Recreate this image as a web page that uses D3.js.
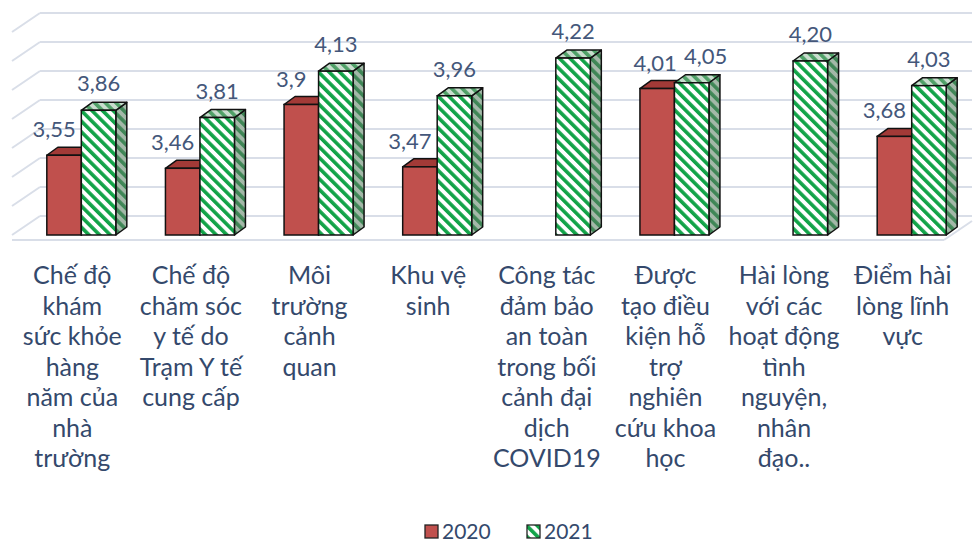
<!DOCTYPE html>
<html lang="vi">
<head>
    <meta charset="UTF-8">
    <title>3D column chart 2020 / 2021</title>
    <script src="https://d3js.org/d3.v7.min.js"></script>
    <style>
        body { margin: 0; background: #fff; }
        text { font-family: Lato, "Open Sans", sans-serif; }
    </style>
</head>
<body>
    <script>
        // Data
        const categories = [
            ["Chế độ", "khám", "sức khỏe", "hàng", "năm của", "nhà", "trường"],
            ["Chế độ", "chăm sóc", "y tế do", "Trạm Y tế", "cung cấp"],
            ["Môi", "trường", "cảnh", "quan"],
            ["Khu vệ", "sinh"],
            ["Công tác", "đảm bảo", "an toàn", "trong bối", "cảnh đại", "dịch", "COVID19"],
            ["Được", "tạo điều", "kiện hỗ", "trợ", "nghiên", "cứu khoa", "học"],
            ["Hài lòng", "với các", "hoạt động", "tình", "nguyện,", "nhân", "đạo.."],
            ["Điểm hài", "lòng lĩnh", "vực"]
        ];
        const values2020 = [3.55, 3.46, 3.9, 3.47, null, 4.01, null, 3.68];
        const values2021 = [3.86, 3.81, 4.13, 3.96, 4.22, 4.05, 4.20, 4.03];
        const labels2020 = ["3,55", "3,46", "3,9", "3,47", null, "4,01", null, "3,68"];
        const labels2021 = ["3,86", "3,81", "4,13", "3,96", "4,22", "4,05", "4,20", "4,03"];
        const gridTicks = [3.0, 3.2, 3.4, 3.6, 3.8, 4.0, 4.2, 4.4];
        const seriesNames = ["2020", "2021"];

        const W = 977, H = 542;
        const textColor = "#34496c";
        const valueColor = "#44577a";

        const svg = d3.select("body").append("svg")
            .attr("width", W).attr("height", H);

        // patterns for the hatched 2021 bars
        const defs = svg.append("defs");
        function stripes(id, bg, fg) {
            const p = defs.append("pattern")
                .attr("id", id)
                .attr("patternUnits", "userSpaceOnUse")
                .attr("width", 7.5).attr("height", 7.5)
                .attr("patternTransform", "rotate(-45)");
            p.append("rect").attr("width", 7.5).attr("height", 7.5).attr("fill", bg);
            p.append("rect").attr("width", 3.6).attr("height", 7.5).attr("fill", fg);
        }
        stripes("hatchFront", "#ffffff", "#12a348");
        stripes("hatchSide", "#a3b8a8", "#3f8656");
        stripes("hatchTop", "#c9ddce", "#4fa067");

        // the second category label is cut at the bottom in the original
        defs.append("clipPath").attr("id", "cutLabel")
            .append("rect").attr("x", 0).attr("y", 0).attr("width", W).attr("height", 411);

        // Scales
        const idx = categories.map((d, i) => i);
        const x0 = d3.scaleBand().domain(idx).range([22, 971]).padding(0);
        const groupW = 69;
        const x1 = d3.scaleBand().domain(seriesNames).range([0, groupW]);
        const y = d3.scaleLinear().domain([3, 4.4]).range([235, 235 - 1.4 * 145]);

        const wallDx = 28, wallDy = 19;   // depth of the floor / walls
        const barDx = 11, barDy = 8;      // depth of each bar

        // Back wall and left wall gridlines
        const grid = svg.append("g")
            .attr("stroke", "#d9dee8")
            .attr("stroke-width", 2)
            .attr("fill", "none");
        gridTicks.forEach(t => {
            const yb = y(t) - wallDy;
            grid.append("line")
                .attr("x1", 12 + wallDx).attr("x2", 972)
                .attr("y1", yb).attr("y2", yb);
            grid.append("line")
                .attr("x1", 12 + wallDx).attr("y1", yb)
                .attr("x2", 12).attr("y2", yb + wallDy);
        });
        // front edge of the floor
        grid.append("line")
            .attr("x1", 12).attr("x2", 944)
            .attr("y1", y(3) + 5).attr("y2", y(3) + 5);
        grid.append("line")
            .attr("x1", 944).attr("y1", y(3) + 5)
            .attr("x2", 972).attr("y2", y(3) + 5 - wallDy);

        const xStart = i => x0(i) + x0.bandwidth() / 2 - groupW / 2;

        function drawBar(g, xl, w, v, front, side, top) {
            const yt = y(v), yb = y(3);
            g.append("path")
                .attr("d", `M${xl + w},${yb} L${xl + w + barDx},${yb - barDy} L${xl + w + barDx},${yt - barDy} L${xl + w},${yt} Z`)
                .attr("fill", side).attr("stroke", "#111").attr("stroke-width", 1.5)
                .attr("stroke-linejoin", "round");
            g.append("path")
                .attr("d", `M${xl},${yt} L${xl + barDx},${yt - barDy} L${xl + w + barDx},${yt - barDy} L${xl + w},${yt} Z`)
                .attr("fill", top).attr("stroke", "#111").attr("stroke-width", 1.5)
                .attr("stroke-linejoin", "round");
            g.append("rect")
                .attr("x", xl).attr("y", yt)
                .attr("width", w).attr("height", yb - yt)
                .attr("fill", front).attr("stroke", "#111").attr("stroke-width", 1.5);
        }

        const bars = svg.append("g");
        idx.forEach(i => {
            const g = bars.append("g");
            const bw = x1.bandwidth();
            if (values2020[i] != null) {
                drawBar(g, xStart(i) + x1("2020"), bw, values2020[i], "#c0504d", "#8f3432", "#a23a37");
            }
            drawBar(g, xStart(i) + x1("2021"), bw, values2021[i], "url(#hatchFront)", "url(#hatchSide)", "url(#hatchTop)");
        });

        // Value labels (nudged apart where the two bars are nearly equal)
        const vl = svg.append("g")
            .attr("fill", valueColor)
            .attr("font-size", 22)
            .attr("text-anchor", "middle");
        idx.forEach(i => {
            const bw = x1.bandwidth();
            let shift2020 = 0, shift2021 = 0;
            if (values2020[i] != null) {
                const diff = values2021[i] - values2020[i];
                if (diff > 0.1) shift2020 = -10;
                else { shift2020 = -2; shift2021 = 14; }
                vl.append("text")
                    .attr("x", xStart(i) + x1("2020") + bw / 2 + shift2020)
                    .attr("y", y(values2020[i]) - 18)
                    .text(labels2020[i]);
            }
            vl.append("text")
                .attr("x", xStart(i) + x1("2021") + bw / 2 + shift2021)
                .attr("y", y(values2021[i]) - 19)
                .text(labels2021[i]);
        });

        // Category labels
        const cl = svg.append("g")
            .attr("fill", textColor)
            .attr("font-size", 25)
            .attr("text-anchor", "middle");
        categories.forEach((lines, i) => {
            const cx = x0(i) + x0.bandwidth() / 2 - 9;
            const t = cl.append("text")
                .attr("x", cx)
                .attr("y", 284);
            if (i === 1) t.attr("clip-path", "url(#cutLabel)");
            lines.forEach((ln, k) => {
                t.append("tspan")
                    .attr("x", cx)
                    .attr("dy", k === 0 ? 0 : 30.5)
                    .text(ln);
            });
        });

        // Legend
        const legend = svg.append("g").attr("transform", "translate(425,522)");
        const legendItems = [
            { name: "2020", fill: "#c0504d", x: 0 },
            { name: "2021", fill: "url(#hatchFront)", x: 102 }
        ];
        legendItems.forEach(d => {
            legend.append("rect")
                .attr("x", d.x).attr("y", 3)
                .attr("width", 13).attr("height", 13)
                .attr("fill", d.fill)
                .attr("stroke", "#222").attr("stroke-width", 1.3);
            legend.append("text")
                .attr("x", d.x + 17).attr("y", 17)
                .attr("fill", textColor)
                .attr("font-size", 21)
                .text(d.name);
        });
    </script>
</body>
</html>
